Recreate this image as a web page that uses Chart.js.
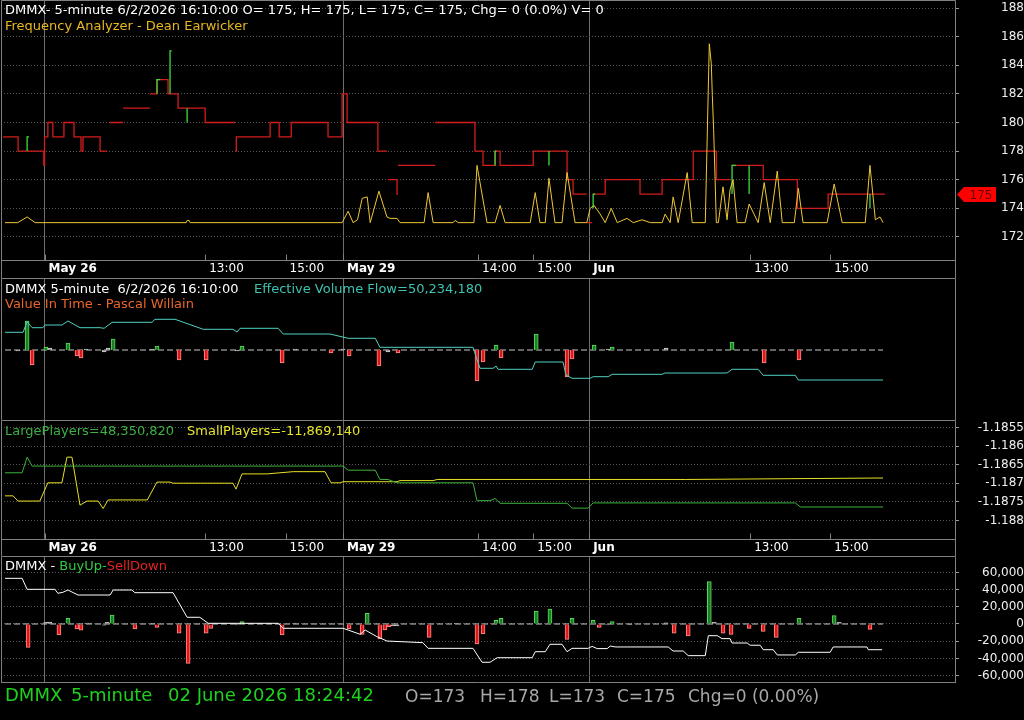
<!DOCTYPE html>
<html>
<head>
<meta charset="utf-8">
<script src="https://cdn.jsdelivr.net/npm/chart.js@4.4.1/dist/chart.umd.min.js"></script>
<style>
  body { margin: 0; background: #000; width: 1024px; height: 720px; overflow: hidden; font-family: "DejaVu Sans", sans-serif; }
  canvas { position: absolute; left: 0; }
  .t { position: absolute; white-space: pre; font-size: 13px; line-height: 15px; z-index: 5; }
  .f { position: absolute; white-space: pre; font-size: 18px; line-height: 20px; top: 685px; z-index: 5; }
  .g { font-size: 17px; color: #a8a8a8; top: 686px; }
</style>
</head>
<body>
<!-- the y label half-height (6px) is eaten by Chart.js padding, so canvases start 6px higher -->
<canvas id="c1" width="1024" height="284" style="top:-6px"></canvas>
<canvas id="c2" width="1024" height="142" style="top:278px"></canvas>
<canvas id="c3" width="1024" height="142" style="top:414px"></canvas>
<canvas id="c4" width="1024" height="139" style="top:550px"></canvas>

<div class="t" style="left:5px;top:2px;color:#fff">DMMX- 5-minute 6/2/2026 16:10:00 O= 175, H= 175, L= 175, C= 175, Chg= 0 (0.0%) V= 0</div>
<div class="t" style="left:5px;top:18px;color:#e8b820">Frequency Analyzer - Dean Earwicker</div>

<div class="t" style="left:5px;top:281px;color:#fff">DMMX 5-minute  6/2/2026 16:10:00</div>
<div class="t" style="left:254px;top:281px;color:#3fc1b0">Effective Volume Flow=50,234,180</div>
<div class="t" style="left:5px;top:296px;color:#e8662a">Value In Time - Pascal Willain</div>

<div class="t" style="left:5px;top:423px;color:#3cb043">LargePlayers=48,350,820</div>
<div class="t" style="left:187px;top:423px;color:#e6e22e">SmallPlayers=-11,869,140</div>

<div class="t" style="left:5px;top:558px;color:#fff">DMMX - <span style="color:#2ecc40">BuyUp-</span><span style="color:#e52222">SellDown</span></div>

<div class="f" style="left:5px;color:#1fd11f">DMMX</div>
<div class="f" style="left:71px;color:#1fd11f">5-minute</div>
<div class="f" style="left:168px;color:#1fd11f">02 June 2026 18:24:42</div>
<div class="f g" style="left:405px">O=173</div>
<div class="f g" style="left:480px">H=178</div>
<div class="f g" style="left:549px">L=173</div>
<div class="f g" style="left:617px">C=175</div>
<div class="f g" style="left:688px">Chg=0 (0.00%)</div>

<script>
// time axis is in 5-minute bar units
var xMax = 285;
var tickPos = [13, 61, 85, 102.2, 142.5, 159, 175.7, 223.8, 247.7];
var tickText = ['May 26', '13:00', '15:00', 'May 29', '14:00', '15:00', 'Jun', '13:00', '15:00'];
var dayLabels = ['May 26', 'May 29', 'Jun'];

// panel 1 - frequency analyzer (step line, up-moves, frequency)
var priceTicks = [172, 174, 176, 178, 180, 182, 184, 186, 188];
var lastClose = 175;
var stepX = [0.6, 5.1, 12.8, 13.0, 14.0, 15.5, 18.8, 21.8, 23.9, 24.5, 29.6, 31.7, 31.7,
  32.6, 36.5, 36.5, 36.5, 44.5, 44.5, 44.5, 46.6, 49.9, 52.9, 61.0, 69.9, 69.9,
  70.0, 70.3, 80.4, 83.1, 86.7, 97.7, 101.9, 103.4, 112.6, 115.3, 115.3,
  115.6, 118.3, 118.6, 118.6,
  118.6, 129.7, 129.7,
  129.7, 141.6, 144.0, 147.6, 149.1, 159.0, 169.1, 170.9, 175.0, 175.0,
  175.0, 176.6, 176.6,
  176.9, 180.5, 190.9, 197.5, 206.8, 213.7, 217.8, 217.8,
  218.4, 227.7, 237.9, 247.1, 264.1];
var stepY = [179, 178, 177, 179, 180, 179, 180, 179, 178, 179, 178, 178, null,
  180, 180, null, 181, 181, null, 182, 183, 182, 181, 180, 180, null,
  178, 179, 180, 179, 180, 179, 182, 180, 178, 178, null,
  176, 175, 175, null,
  177, 177, null,
  180, 178, 177, 178, 177, 178, 176, 175, 175, null,
  173, 173, null,
  175, 176, 175, 176, 178, 176, 176, null,
  177, 176, 174, 175, 175];
var upX = [7.8, 7.8, 8.4, 8.4, 46.6, 46.6, 47.6, 47.6, 50.5, 50.5, 51.0, 51.0, 55.6, 55.6, 55.6,
  147.6, 147.6, 148.0, 148.0, 163.7, 163.7, 163.7, 176.9, 176.9, 177.5, 177.5,
  218.4, 218.4, 219.5, 219.5, 223.5, 223.5, 223.5, 259.6, 259.6];
var upY = [178, 179, 179, null, 182, 183, 183, null, 182, 185, 185, null, 180, 181, null,
  177, 178, 178, null, 177, 178, null, 174, 175, 175, null,
  175, 177, 177, null, 175, 177, null, 174, 175];
var freqX = [1.2, 5, 7.8, 10.2, 55.3, 55.6, 56.2, 56.5, 101.9, 103.7, 105.2, 106.5, 107.9, 109.4, 110.3,
  112.9, 115.3, 116.2, 118.3, 119.2, 126.4, 127.6, 129.1, 135, 135.7, 136.6, 141.3, 142.2, 145.2,
  147.6, 149.1, 150.6, 158.1, 159.6, 161.0, 162.6, 163.7, 165.5, 167.6, 169.1, 171.5,
  175.0, 176.0, 177.2, 179.0, 180.5, 182.3, 184.1, 187.0, 188.9, 191.5, 194.0, 197.5, 198.4, 199.9,
  200.8, 202.3, 205.0, 206.5, 210.4, 211.6, 212.2, 212.5, 212.9, 213.7, 214.3, 215.7, 216.9, 217.8,
  218.7, 219.9, 222.3, 223.5, 226.2, 228.0, 229.8, 231.9, 233.4, 237.0, 238.2, 239.6, 246.8, 248.9,
  251.3, 258.2, 259.6, 261.2, 262.6, 263.5];
var freqY = [173, 173, 173.4, 173, 173, 173.15, 173.15, 173, 173, 173.8, 173, 173.2, 174.7, 174.8, 173,
  175.2, 173.4, 173.3, 173.3, 173, 173, 175.1, 173, 173, 173.15, 173, 173, 177.0, 173,
  173, 174.2, 173, 173, 175.1, 173, 173, 176.1, 173, 173, 176.5, 173,
  173, 174.0, 174.2, 173.6, 173, 174.0, 173, 173.3, 173, 173.2, 173, 173, 173.6, 173,
  174.8, 173, 176.5, 173, 173, 185.5, 184.1, 181.9, 179.5, 173, 173, 175.5, 173.2, 175.3,
  176.0, 173, 173, 174.3, 173, 175.8, 173, 176.6, 173, 173, 175.4, 173, 173, 175.7,
  173, 173, 177.0, 173.2, 173.4, 173];

// panel 2 - value in time (flow line + histogram)
var flowX = [1.2, 6.6, 7.8, 9.3, 12.5, 13.1, 18.2, 20.0, 23.6, 29.6, 30.8, 33.2, 45.1, 46.0, 52.0,
  60.4, 69.3, 70.5, 71.4, 82.8, 84.3, 98.3, 103.7, 111.8, 113.2, 141.0, 143.1, 147.0, 147.9, 148.5,
  158.7, 159.6, 167.9, 168.8, 170.6, 176.0, 176.9, 181.4, 182.6, 197.5, 198.4, 216.9, 218.4, 226.2,
  227.7, 237.3, 238.2, 263.5];
var flowY = [17.7, 17.7, 28.3, 22.3, 22.3, 25, 25, 29, 22.3, 22.3, 21.7, 27.7, 27.7, 30.7, 30.7,
  20.7, 20.7, 18, 21.7, 21.7, 16, 16, 11.7, 11.7, 2.7, 2.7, -18.3, -18.3, -16, -19.3,
  -19.3, -12, -12, -25, -28.3, -28.3, -26.7, -26.7, -24.3, -24.3, -23, -23, -19.3, -19.3,
  -25.3, -25.3, -30, -30];
var vitX = [5.1, 7.8, 9.3, 13.4, 14.6, 20.0, 22.7, 23.9, 25.4, 30.8, 32.0, 33.5, 45.1, 46.6, 53.2,
  61.3, 70.5, 72.0, 84.0, 87.8, 98.6, 102.2, 104.0, 112.9, 115.6, 118.6, 142.2, 144.0, 147.9, 149.4,
  159.9, 169.1, 170.6, 177.2, 181.4, 182.6, 198.7, 218.4, 228.0, 238.4];
var vitY = [-1, 29, -15, 3, 2, 7, -6, -8, 1, -2, 2, 11, 1, 4, -10,
  -10, -1, 4, -13, 1, -3, 1, -6, -16, -2, -3, -31, -12, 5, -8,
  16, -27, -9, 5, 1, 3, 2, 8, -13, -10];

// panel 3 - large / small players
var playerTicks = [-1.188, -1.1875, -1.187, -1.1865, -1.186, -1.1855];
var largeX = [1.2, 6.3, 7.8, 9.3, 102.2, 103.7, 111.8, 113.2, 115.6, 118.3, 141.0, 142.2, 146.1,
  147.6, 149.1, 169.1, 170.6, 175.4, 176.9, 237.3, 238.8, 263.5];
var largeY = [-1.18672, -1.18672, -1.18630, -1.18654, -1.18654, -1.18665, -1.18665, -1.18690,
  -1.18690, -1.18699, -1.18699, -1.18747, -1.18747, -1.18741, -1.18754, -1.18754, -1.18767,
  -1.18767, -1.18753, -1.18753, -1.18764, -1.18764];
var smallX = [1.2, 3.6, 5.1, 11.6, 14.0, 18.2, 19.7, 21.2, 23.6, 25.7, 29.0, 30.5, 32.0, 43.7, 46.6,
  50.5, 51.4, 69.3, 70.2, 72.0, 79.5, 87.3, 96.8, 98.6, 101.3, 102.2, 118.3, 119.2, 129.1, 130.3,
  204.4, 263.5];
var smallY = [-1.18734, -1.18734, -1.18748, -1.18748, -1.18699, -1.18699, -1.18630, -1.18630,
  -1.18759, -1.18748, -1.18748, -1.18768, -1.18745, -1.18745, -1.18697, -1.18697, -1.18700,
  -1.18700, -1.18716, -1.18675, -1.18675, -1.18669, -1.18669, -1.18699, -1.18699, -1.18696,
  -1.18696, -1.18693, -1.18693, -1.18690, -1.18690, -1.18686];

// panel 4 - BuyUp-SellDown
var buyTicks = [-60000, -40000, -20000, 0, 20000, 40000, 60000];
var netX = [1.2, 6.3, 7.8, 16.1, 17.0, 18.5, 20.0, 23.0, 32.6, 33.5, 39.1, 40.0, 51.4, 55.6, 59.4,
  61.9, 82.8, 84.3, 102.2, 103.7, 107.3, 108.8, 112.3, 115.3, 126.0, 127.6, 141.0, 143.7, 146.1, 148.2,
  158.7, 159.6, 162.6, 164.0, 167.6, 169.1, 170.6, 175.4, 176.6, 178.1, 181.1, 182.0, 183.5, 199.3,
  200.8, 203.8, 205.3, 210.4, 211.3, 214.0, 215.4, 217.8, 218.4, 222.9, 223.8, 226.8, 227.7, 230.7,
  231.9, 237.3, 238.2, 247.7, 248.6, 258.7, 259.1, 263.2];
var netY = [53100, 53100, 40300, 40300, 35700, 36900, 39500, 33700, 33700, 39500, 39500, 36400,
  36400, 7800, 7800, 800, 800, -5000, -5000, -7000, -12000, -7000, -14700, -19800, -21700,
  -28300, -28300, -44500, -44500, -39200, -39200, -32200, -32200, -23600, -23600, -32200, -28300,
  -28300, -26000, -28600, -28600, -25600, -26700, -26700, -31400, -31400, -36800, -36800, -13600,
  -13600, -17000, -17000, -22100, -22100, -24700, -24700, -29900, -29900, -36000, -36000, -32900,
  -32900, -26700, -26700, -29900, -29900];
var buyX = [8.1, 13.4, 14.6, 17.3, 20.0, 22.7, 23.9, 25.4, 26.6, 30.8, 31.7, 33.2, 40.0, 45.4, 46.6,
  53.2, 55.9, 61.3, 62.7, 70.5, 72.0, 84.0, 87.8, 104.0, 107.9, 109.4, 113.2, 114.7, 115.9, 117.1,
  118.3, 127.9, 136.0, 142.2, 144.0, 147.9, 149.4, 159.9, 164.0, 169.1, 170.6, 176.9, 178.7, 181.1,
  182.6, 188.0, 198.7, 201.1, 205.3, 211.6, 213.1, 215.7, 218.1, 223.5, 227.7, 231.6, 238.4, 248.9,
  250.4, 259.6];
var buyY = [-27100, 2000, 2300, -12800, 6600, -5800, -7300, 1000, 1000, -1500, 2000, 10500, -5800,
  800, -3900, -10800, -45700, -10800, -5000, -1000, 2700, -12800, 1000, -5800, -12000, 12400,
  -17000, -7000, -3000, -2300, -2300, -15500, 800, -23300, -11600, 4300, 6600, 15100, 17400,
  -17800, 6600, 4300, -3900, -1000, 2700, -1000, 1500, -10800, -14000, 49200, 2000, -10800,
  -12000, -5000, -8500, -15500, 6600, 9700, 2000, -6200];

var zeroX = [1.2, 263.5];
var zeroY = [0, 0];

Chart.defaults.font.family = 'DejaVu Sans';
Chart.defaults.font.size = 12;
Chart.defaults.color = '#ffffff';

function pts(xs, ys) {
  return xs.map(function (x, i) { return { x: x, y: ys[i] }; });
}

function isDay(i) {
  return dayLabels.indexOf(tickText[i]) >= 0;
}

function barFill(lim) {
  return function (c) {
    var v = c.raw ? c.raw.y : 0;
    if (Math.abs(v) <= lim) return '#8a8a8a';
    return v > 0 ? '#1d7f27' : '#e01818';
  };
}
function barEdge(lim) {
  return function (c) {
    var v = c.raw ? c.raw.y : 0;
    if (Math.abs(v) <= lim) return '#d0d0d0';
    return v > 0 ? '#5ada5a' : '#ff8c8c';
  };
}

var framePlugin = {
  id: 'frame',
  afterDraw: function (chart, args, opts) {
    var a = chart.chartArea, c = chart.ctx;
    var l = Math.round(a.left) + 0.5, r = Math.round(a.right) + 0.5;
    var t = Math.round(a.top) + 0.5, b = Math.round(a.bottom) - 0.5;
    var end = opts.band ? chart.height : Math.round(a.bottom);
    c.save();
    c.strokeStyle = '#808080';
    c.lineWidth = 1;
    c.beginPath();
    c.moveTo(l, end); c.lineTo(l, t); c.lineTo(r, t); c.lineTo(r, end);
    if (opts.bottom) { c.moveTo(l, b); c.lineTo(r, b); }
    // short time ticks pointing up from the axis line
    if (opts.band) {
      chart.scales.x.ticks.forEach(function (tk) {
        var x = Math.round(chart.scales.x.getPixelForValue(tk.value)) + 0.5;
        c.moveTo(x, b); c.lineTo(x, b - 6);
      });
    }
    c.stroke();
    c.restore();
  }
};

var tagPlugin = {
  id: 'tag',
  afterDraw: function (chart) {
    if (!chart.options.plugins.tag.show) return;
    var c = chart.ctx;
    var y = Math.round(chart.scales.y.getPixelForValue(lastClose)) + 0.5;
    var x0 = chart.chartArea.right + 2;
    c.save();
    c.fillStyle = '#ff0000';
    c.beginPath();
    c.moveTo(x0, y); c.lineTo(x0 + 7, y - 7.5); c.lineTo(x0 + 39, y - 7.5);
    c.lineTo(x0 + 39, y + 7.5); c.lineTo(x0 + 7, y + 7.5); c.closePath();
    c.fill();
    c.fillStyle = '#6a0000';
    c.font = '12px "DejaVu Sans"';
    c.textAlign = 'center';
    c.textBaseline = 'middle';
    c.fillText(String(lastClose), x0 + 24, y + 1);
    c.restore();
  }
};

function xScale(showX, band) {
  return {
    type: 'linear', min: 0, max: xMax, offset: false,
    afterBuildTicks: function (ax) { ax.ticks = tickPos.map(function (v) { return { value: v }; }); },
    afterFit: function (ax) { ax.height = showX ? band : 0; },
    grid: {
      color: function (c) { return isDay(c.index) ? '#6e6e6e' : 'rgba(0,0,0,0)'; },
      drawTicks: false, offset: false
    },
    border: { display: false },
    ticks: {
      display: showX, autoSkip: false, maxRotation: 0, minRotation: 0,
      align: 'start', labelOffset: 4, padding: 1, color: '#ffffff',
      font: function (c) { return { size: 12, weight: isDay(c.index) ? 'bold' : 'normal' }; },
      callback: function (v, i) { return tickText[i]; }
    }
  };
}

// gap = distance from the plot edge to the widest label; only the first 4px of the tick are drawn
function yScale(min, max, ticks, gap, fmt) {
  return {
    position: 'right', min: min, max: max,
    afterBuildTicks: function (ax) { ax.ticks = ticks.map(function (v) { return { value: v }; }); },
    afterFit: function (ax) { ax.width = 69; },
    grid: {
      display: ticks.length > 0, color: '#555555', tickLength: gap,
      tickColor: '#9a9a9a', tickBorderDash: [4, 200]
    },
    border: { display: false, dash: [1, 2] },
    ticks: {
      display: ticks.length > 0, color: '#f0f0f0', crossAlign: 'far', padding: 0,
      font: { size: 12, lineHeight: 1 }, callback: fmt
    }
  };
}

function options(x, y, band, tag) {
  return {
    responsive: false,
    animation: false,
    events: [],
    layout: { padding: { left: 1, top: 0, right: 0, bottom: 0 } },
    plugins: {
      legend: { display: false }, tooltip: { enabled: false },
      frame: { bottom: true, band: band }, tag: { show: tag }
    },
    elements: { point: { radius: 0 }, line: { borderWidth: 1, tension: 0 } },
    scales: { x: x, y: y }
  };
}

// panel 1
new Chart(document.getElementById('c1'), {
  type: 'line',
  data: {
    datasets: [
      { data: pts(stepX, stepY), borderColor: '#d41c1c', stepped: true, borderWidth: 1.3, order: 2 },
      { data: pts(upX, upY), borderColor: '#3ddc3d', borderWidth: 1.3, order: 1 },
      { data: pts(freqX, freqY), borderColor: '#f0c836', order: 0 }
    ]
  },
  options: options(xScale(true, 17), yScale(170.32, 188.56, priceTicks, 41, function (v) { return String(v); }), true, true),
  plugins: [framePlugin, tagPlugin]
});

// panel 2
var opt2 = options(xScale(false, 0), yScale(-70, 72, [], 0, null), false, false);
opt2.plugins.frame.bottom = false;
new Chart(document.getElementById('c2'), {
  type: 'bar',
  data: {
    datasets: [
      { type: 'line', data: pts(zeroX, zeroY), borderColor: '#c8c8c8', borderDash: [6, 3], order: 3 },
      { data: pts(vitX, vitY), backgroundColor: barFill(2), borderColor: barEdge(2), borderWidth: 1, barThickness: 4, order: 2 },
      { type: 'line', data: pts(flowX, flowY), borderColor: '#4fd1c0', order: 1 }
    ]
  },
  options: opt2,
  plugins: [framePlugin]
});

// panel 3
new Chart(document.getElementById('c3'), {
  type: 'line',
  data: {
    datasets: [
      { data: pts(largeX, largeY), borderColor: '#3cb33c' },
      { data: pts(smallX, smallY), borderColor: '#e8e024' }
    ]
  },
  options: options(xScale(true, 16), yScale(-1.188527, -1.185301, playerTicks, 17,
    function (v) { return String(+v.toFixed(4)); }), true, false),
  plugins: [framePlugin]
});

// panel 4
new Chart(document.getElementById('c4'), {
  type: 'bar',
  data: {
    datasets: [
      { type: 'line', data: pts(zeroX, zeroY), borderColor: '#c8c8c8', borderDash: [6, 3], order: 3 },
      { data: pts(buyX, buyY), backgroundColor: barFill(2500), borderColor: barEdge(2500), borderWidth: 1, barThickness: 4, order: 2 },
      { type: 'line', data: pts(netX, netY), borderColor: '#ffffff', order: 1 }
    ]
  },
  options: options(xScale(false, 0), yScale(-68605, 79070, buyTicks, 17,
    function (v) { return Math.round(v).toLocaleString('en-US'); }), false, false),
  plugins: [framePlugin]
});
</script>
</body>
</html>
